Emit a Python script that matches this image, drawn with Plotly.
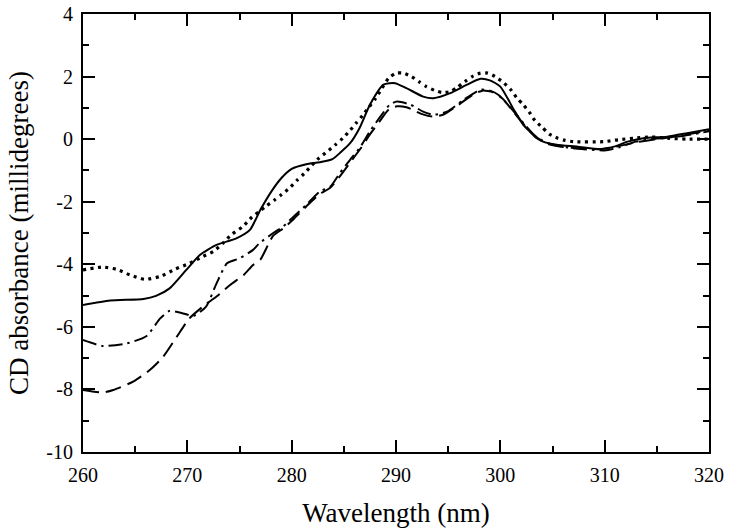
import plotly.graph_objects as go

# ---- data ----
solid_x = [260, 262.6, 265.8, 267.0, 268.3, 269.9, 271.2, 272.8, 274.7, 276.0, 277.0, 278.0, 279.0,
           280.0, 281.4, 282.7, 283.9, 284.7, 285.6, 286.5, 287.5, 288.8, 289.9, 291.0, 292.6, 293.6,
           295.2, 296.8, 298.1, 299.0, 300.0, 301.3, 302.2, 303.2, 304.1, 305.4, 307.4, 309.6, 310.9,
           312.2, 313.7, 316.0, 317.9, 320.0]
solid_y = [-5.30, -5.16, -5.11, -5.01, -4.77, -4.18, -3.70, -3.38, -3.17, -2.90, -2.26, -1.70, -1.25,
           -0.95, -0.80, -0.74, -0.64, -0.42, -0.13, 0.35, 1.10, 1.74, 1.79, 1.63, 1.36, 1.31,
           1.47, 1.74, 1.93, 1.88, 1.68, 0.94, 0.46, 0.14, -0.08, -0.18, -0.24, -0.32, -0.24,
           -0.08, 0.03, 0.08, 0.19, 0.32]

dotted_x = [260, 261.9, 263.2, 264.5, 265.9, 267.4, 268.8, 270.2, 271.5, 272.5, 273.4, 274.2, 275.3,
            276.2, 276.9, 277.6, 278.3, 279.0, 279.8, 280.5, 281.2, 281.9, 282.6, 283.4, 284.2, 284.9,
            285.6, 286.2, 286.8, 287.4, 288.0, 288.6, 289.3, 290.0, 290.7, 291.5, 292.2, 292.9, 293.7,
            294.4, 295.2, 295.9, 296.6, 297.3, 298.1, 298.8, 299.5, 300.3, 301.0, 301.6, 302.2, 302.8,
            303.3, 304.0, 304.7, 305.5, 306.2, 307.0, 309.9, 311.3, 312.8, 314.4, 316.0, 317.9, 320.0]
dotted_y = [-4.18, -4.09, -4.16, -4.34, -4.48, -4.39, -4.16, -3.97, -3.75, -3.59, -3.33, -3.06, -2.80,
            -2.49, -2.31, -2.13, -1.96, -1.78, -1.56, -1.32, -1.10, -0.85, -0.61, -0.40, -0.18, 0.03,
            0.28, 0.52, 0.76, 1.02, 1.28, 1.60, 1.95, 2.11, 2.11, 2.00, 1.84, 1.68, 1.56,
            1.49, 1.52, 1.66, 1.84, 2.00, 2.11, 2.11, 2.00, 1.81, 1.58, 1.31, 1.10, 0.85,
            0.60, 0.38, 0.16, 0.03, -0.04, -0.08, -0.08, -0.02, 0.03, 0.07, 0.03, 0.00, 0.00]

dashdot_x = [260, 261.9, 264.2, 266.1, 267.4, 268.3, 269.6, 270.6, 271.8, 272.8, 273.8, 275.0, 276.3,
             276.9, 278.2, 279.2, 280.2, 281.4, 282.7, 283.7, 284.6, 285.6, 286.6, 287.5, 288.5, 289.4,
             290.1, 291.4, 292.6, 293.6, 294.9, 296.5, 298.1, 299.0, 299.8, 300.6, 301.5, 302.5, 303.5,
             305.0, 306.5, 308.0, 310.0, 311.5, 313.0, 315.0, 317.5, 320.0]
dashdot_y = [-6.42, -6.61, -6.53, -6.29, -5.73, -5.49, -5.57, -5.65, -5.35, -4.61, -3.97, -3.81, -3.54,
             -3.33, -3.01, -2.79, -2.47, -2.10, -1.67, -1.52, -1.09, -0.66, -0.24, 0.25, 0.72, 1.10,
             1.20, 1.10, 0.88, 0.78, 0.88, 1.26, 1.58, 1.55, 1.42, 1.15, 0.80, 0.40, 0.05,
             -0.17, -0.27, -0.32, -0.36, -0.25, -0.08, 0.02, 0.10, 0.25]

dashed_x = [260, 261.9, 262.9, 264.8, 266.4, 267.7, 269.0, 270.2, 271.5, 272.8, 274.1, 275.4, 276.3,
            277.0, 278.2, 279.2, 280.2, 281.4, 282.7, 283.7, 284.6, 285.6, 286.6, 287.5, 288.5, 289.3,
            290.1, 291.0, 291.7, 292.5, 293.5, 294.5, 296.0, 297.5, 298.3, 299.3, 300.2, 301.2, 302.3,
            303.3, 304.5, 306.0, 308.0, 309.5, 311.0, 313.0, 315.0, 317.5, 320.0]
dashed_y = [-8.02, -8.10, -8.02, -7.75, -7.38, -6.95, -6.31, -5.73, -5.35, -5.03, -4.66, -4.34, -4.02,
            -3.85, -3.10, -2.85, -2.55, -2.15, -1.75, -1.55, -1.20, -0.75, -0.30, 0.15, 0.60, 0.95,
            1.05, 1.02, 0.92, 0.80, 0.72, 0.78, 1.10, 1.45, 1.55, 1.50, 1.30, 0.90, 0.45,
            0.08, -0.15, -0.25, -0.30, -0.32, -0.25, -0.10, 0.00, 0.12, 0.28]

x_ticks = [260, 270, 280, 290, 300, 310, 320]
x_tick_labels = ["260", "270", "280", "290", "300", "310", "320"]
y_ticks = [-10, -8, -6, -4, -2, 0, 2, 4]
y_tick_labels = ["-10", "-8", "-6", "-4", "-2", "0", "2", "4"]

FONT = "Liberation Serif, Times New Roman, serif"

fig = go.Figure()
fig.add_trace(go.Scatter(x=dotted_x, y=dotted_y, mode="lines",
                         line=dict(color="black", width=3.2, dash="3px,4.5px", shape="spline", smoothing=0.6)))
fig.add_trace(go.Scatter(x=solid_x, y=solid_y, mode="lines",
                         line=dict(color="black", width=2, shape="spline", smoothing=0.6)))
fig.add_trace(go.Scatter(x=dashdot_x, y=dashdot_y, mode="lines",
                         line=dict(color="black", width=2, dash="14px,5px,2.5px,5px", shape="spline", smoothing=0.6)))
fig.add_trace(go.Scatter(x=dashed_x, y=dashed_y, mode="lines",
                         line=dict(color="black", width=2, dash="16px,7px", shape="spline", smoothing=0.6)))

axis_common = dict(showline=True, linecolor="black", linewidth=2, mirror="ticks",
                   ticks="inside", ticklen=12, tickwidth=1.5, tickcolor="black",
                   showgrid=False, zeroline=False, automargin=False, ticklabelstandoff=4,
                   tickfont=dict(family=FONT, size=20, color="black"))

fig.update_xaxes(range=[260, 320], tickvals=x_ticks, ticktext=x_tick_labels,
                 minor=dict(ticks="inside", ticklen=6, tickwidth=1.5, tickcolor="black", dtick=5, showgrid=False),
                 title=dict(text="Wavelength (nm)", font=dict(family=FONT, size=27, color="black"), standoff=18),
                 **axis_common)
fig.update_yaxes(range=[-10, 4], tickvals=y_ticks, ticktext=y_tick_labels,
                 minor=dict(ticks="inside", ticklen=6, tickwidth=1.5, tickcolor="black", dtick=1, showgrid=False),
                 title=dict(text="CD absorbance (millidegrees)", font=dict(family=FONT, size=27, color="black"), standoff=10),
                 **axis_common)

fig.update_layout(width=729, height=532, margin=dict(l=83, r=20, t=14, b=80),
                  font=dict(family=FONT, color="black"),
                  plot_bgcolor="white", paper_bgcolor="white", showlegend=False)

fig.write_html("out.html", config={"displayModeBar": False},
               post_script="document.body.style.margin='0';")
